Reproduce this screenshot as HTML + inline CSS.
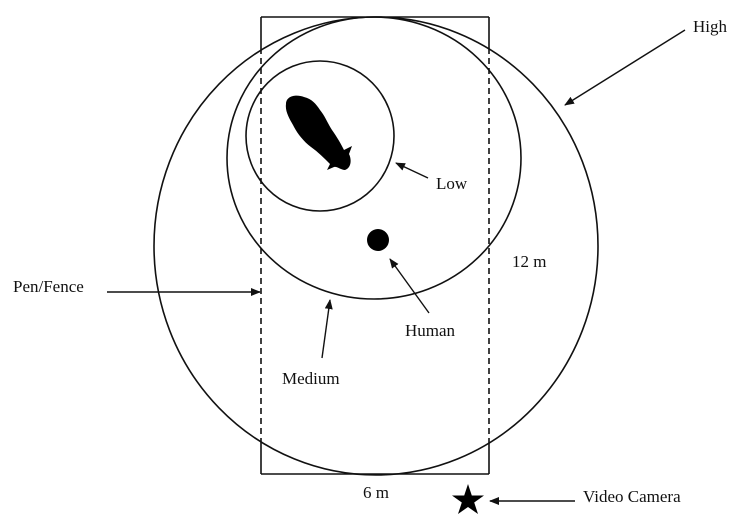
<!DOCTYPE html>
<html><head><meta charset="utf-8"><style>
html,body{margin:0;padding:0;background:#fff}
svg{display:block}
text{font-family:"Liberation Serif",serif;font-size:17px;fill:#111}
</style></head><body>
<svg width="745" height="522" viewBox="0 0 745 522" xmlns="http://www.w3.org/2000/svg">
<defs>
<marker id="a" markerWidth="10" markerHeight="8" refX="9" refY="4" orient="auto" markerUnits="userSpaceOnUse">
<path d="M0,0 L10,4 L0,8 Z" fill="#111"/></marker>
</defs>
<g stroke="#111" stroke-width="1.6" fill="none">
<line x1="261" y1="17" x2="489" y2="17"/>
<line x1="261" y1="474" x2="489" y2="474"/>
<line x1="261" y1="17" x2="261" y2="48"/>
<line x1="489" y1="17" x2="489" y2="48"/>
<line x1="261" y1="443" x2="261" y2="474"/>
<line x1="489" y1="443" x2="489" y2="474"/>
<line x1="261" y1="48" x2="261" y2="443" stroke-dasharray="6,4"/>
<line x1="489" y1="48" x2="489" y2="443" stroke-dasharray="6,4"/>
<ellipse cx="376" cy="246" rx="222" ry="229"/>
<ellipse cx="374" cy="158" rx="147" ry="141"/>
<ellipse cx="320" cy="136" rx="74" ry="75"/>
</g>
<circle cx="378" cy="240" r="11" fill="#000"/>
<g fill="#000">
<path d="M286,104 C286,96 296,94 304,97 C312,99 316,104 320,110 C325,116 328,124 332,130 C337,137 341,144 344,150 L352,146 L349,154 C352,160 351,168 345,170 C341,170 337,166 334,167 L327,170 L330,164 C324,158 318,152 311,147 C303,141 297,133 293,125 C289,118 285,111 286,104 Z"/>
</g>
<g stroke="#111" stroke-width="1.4" fill="none">
<line x1="685" y1="30" x2="565" y2="105" marker-end="url(#a)"/>
<line x1="428" y1="178" x2="396" y2="163" marker-end="url(#a)"/>
<line x1="107" y1="292" x2="260" y2="292" marker-end="url(#a)"/>
<line x1="429" y1="313" x2="390" y2="259" marker-end="url(#a)"/>
<line x1="322" y1="358" x2="330" y2="300" marker-end="url(#a)"/>
<line x1="575" y1="501" x2="490" y2="501" marker-end="url(#a)"/>
</g>
<polygon fill="#000" points="468,484 471.8,495.5 484,495.5 474.2,502.5 478,514 468,507 458,514 461.8,502.5 452,495.5 464.2,495.5"/>
<text x="693" y="32">High</text>
<text x="436" y="189">Low</text>
<text x="512" y="267">12 m</text>
<text x="13" y="292">Pen/Fence</text>
<text x="405" y="336">Human</text>
<text x="282" y="384">Medium</text>
<text x="363" y="498">6 m</text>
<text x="583" y="502">Video Camera</text>
</svg>
</body></html>
